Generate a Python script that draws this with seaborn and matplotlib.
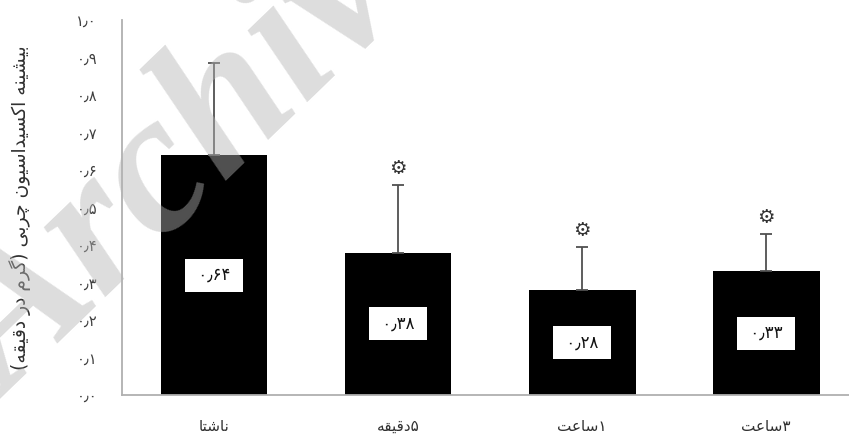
import numpy as np
import pandas as pd
import matplotlib
matplotlib.use("Agg")
import matplotlib.pyplot as plt
import seaborn as sns

# ---- data -------------------------------------------------------------
categories = ["ناشتا", "۵دقیقه", "۱ساعت", "۳ساعت"]
means = [0.64, 0.38, 0.28, 0.33]
sd_upper = [0.245, 0.18, 0.115, 0.10]
significant = [False, True, True, True]
y_ticks = [0.0, 0.1, 0.2, 0.3, 0.4, 0.5, 0.6, 0.7, 0.8, 0.9, 1.0]
y_label = "بیشینه اکسیداسیون چربی (گرم در دقیقه)"
watermark = "Archive of SID"

# ---- minimal Persian shaping (matplotlib draws glyphs left to right) ---
FORMS = {  # isolated, final, initial, medial
    "ا": ("\uFE8D", "\uFE8E", None, None),
    "ب": ("\uFE8F", "\uFE90", "\uFE91", "\uFE92"),
    "ت": ("\uFE95", "\uFE96", "\uFE97", "\uFE98"),
    "ج": ("\uFE9D", "\uFE9E", "\uFE9F", "\uFEA0"),
    "چ": ("\uFB7A", "\uFB7B", "\uFB7C", "\uFB7D"),
    "د": ("\uFEA9", "\uFEAA", None, None),
    "ر": ("\uFEAD", "\uFEAE", None, None),
    "س": ("\uFEB1", "\uFEB2", "\uFEB3", "\uFEB4"),
    "ش": ("\uFEB5", "\uFEB6", "\uFEB7", "\uFEB8"),
    "ع": ("\uFEC9", "\uFECA", "\uFECB", "\uFECC"),
    "ق": ("\uFED5", "\uFED6", "\uFED7", "\uFED8"),
    "ک": ("\uFB8E", "\uFB8F", "\uFB90", "\uFB91"),
    "گ": ("\uFB92", "\uFB93", "\uFB94", "\uFB95"),
    "م": ("\uFEE1", "\uFEE2", "\uFEE3", "\uFEE4"),
    "ن": ("\uFEE5", "\uFEE6", "\uFEE7", "\uFEE8"),
    "ه": ("\uFEE9", "\uFEEA", "\uFEEB", "\uFEEC"),
    "و": ("\uFEED", "\uFEEE", None, None),
    "ی": ("\uFBFC", "\uFBFD", "\uFBFE", "\uFBFF"),
}
MIRROR = {"(": ")", ")": "("}
FA_DIGITS = str.maketrans("0123456789.", "۰۱۲۳۴۵۶۷۸۹٫")


def shape(word):
    out = []
    for i, ch in enumerate(word):
        f = FORMS.get(ch)
        if f is None:
            out.append(ch)
            continue
        prev = word[i - 1] if i > 0 else ""
        nxt = word[i + 1] if i + 1 < len(word) else ""
        jp = prev in FORMS and FORMS[prev][2] is not None
        jn = f[2] is not None and nxt in FORMS
        out.append(f[3] if jp and jn else f[1] if jp else f[2] if jn else f[0])
    return "".join(out)


def visual(text):
    # right-to-left order; a leading number ends up at the right end
    k = 0
    while k < len(text) and text[k] in "۰۱۲۳۴۵۶۷۸۹٫":
        k += 1
    head, rest = text[:k], text[k:]
    return "".join(MIRROR.get(c, c) for c in reversed(shape(rest))) + head


def fa_num(v, fmt):
    return format(v, fmt).translate(FA_DIGITS)


# ---- figure -----------------------------------------------------------
sns.set_style("white")
plt.rcParams["font.family"] = ["DejaVu Sans"]

W, H = 849, 438
fig = plt.figure(figsize=(W / 100, H / 100), dpi=100)
ax = fig.add_axes([122 / W, 43 / H, 727 / W, 375 / H])

df = pd.DataFrame({"time": categories, "value": means})
sns.barplot(data=df, x="time", y="value", order=categories, color="black",
            saturation=1, width=0.58, errorbar=None, edgecolor="none", ax=ax)

x = np.arange(len(categories))
ax.errorbar(x, means, yerr=[np.zeros(len(means)), sd_upper], fmt="none",
            ecolor="#505050", elinewidth=1.3, capsize=4, capthick=1.3, zorder=3)

for xi, m, e, sig in zip(x, means, sd_upper, significant):
    ax.text(xi, m / 2, " " + fa_num(m, ".2f") + " ", ha="center", va="center",
            fontsize=12, color="#111111", zorder=4,
            bbox=dict(boxstyle="square,pad=0.45", fc="white", ec="none"))
    if sig:
        ax.text(xi, m + e + 0.043, "⚙", ha="center", va="center",
                fontsize=14, color="#333333", zorder=4)

ax.set_xlim(-0.5, 3.45)
ax.set_ylim(0, 1.0)
ax.set_yticks(y_ticks)
ax.set_yticklabels([fa_num(v, ".1f") for v in y_ticks], fontsize=10.5,
                   color="#404040")
ax.set_xticks(x)
ax.set_xticklabels([visual(c) for c in categories], fontsize=11,
                   color="#303030")
ax.tick_params(axis="both", length=0)
ax.tick_params(axis="y", pad=18)
ax.tick_params(axis="x", pad=17)
ax.set_xlabel("")
ax.set_ylabel(visual(y_label), fontsize=13.5, color="#303030", labelpad=33)

for s in ("top", "right"):
    ax.spines[s].set_visible(False)
for s in ("left", "bottom"):
    ax.spines[s].set_color("#b0b0b0")
    ax.spines[s].set_linewidth(1.3)

fig.text(10 / W, 1 - 400 / H, watermark, rotation=44, rotation_mode="anchor",
         ha="left", va="baseline", fontsize=145, family="Liberation Serif",
         weight="bold", style="italic", color="#b4b4b4", alpha=0.45,
         zorder=10)

fig.savefig("out.png", dpi=100, facecolor="white")
